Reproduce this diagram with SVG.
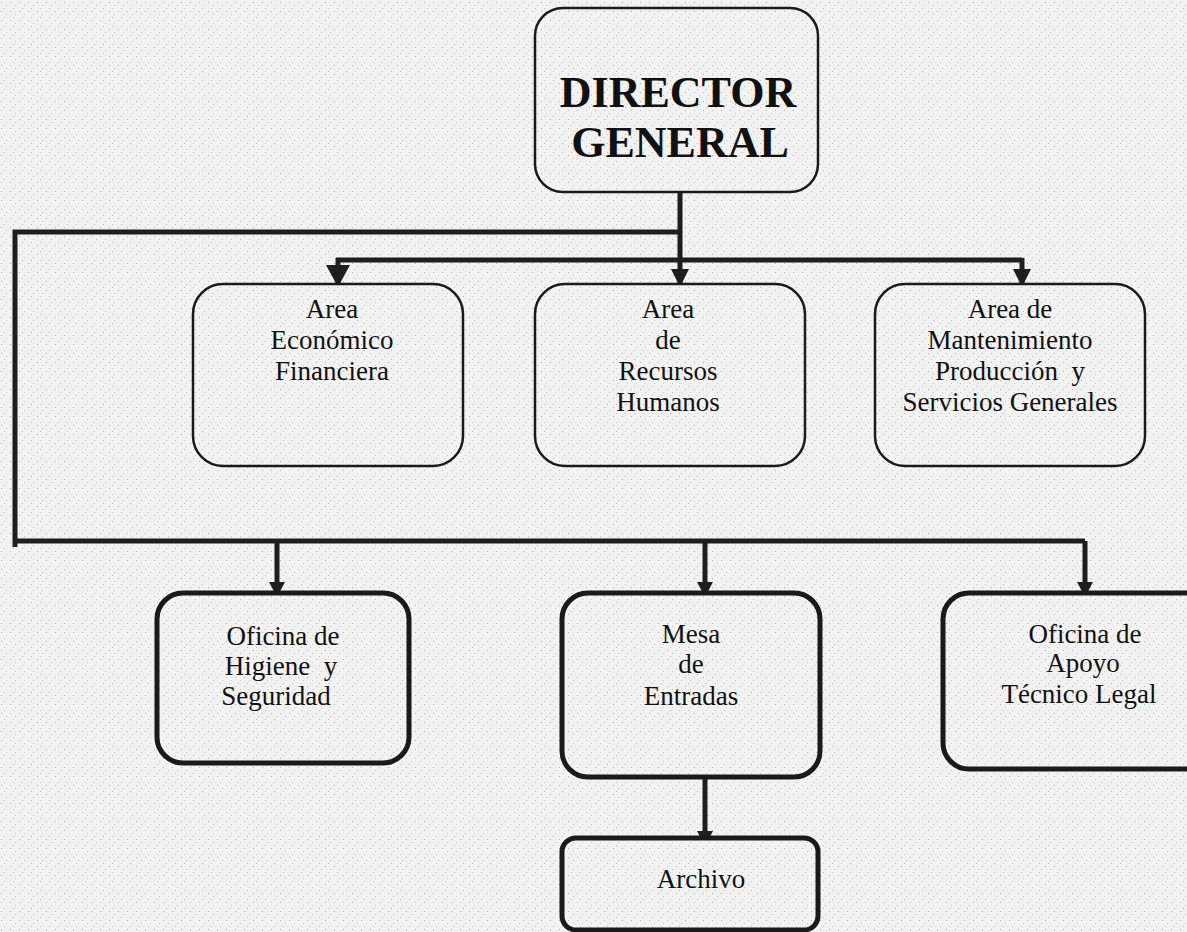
<svg xmlns="http://www.w3.org/2000/svg" width="1187" height="932" viewBox="0 0 1187 932">
  <defs>
    <pattern id="speckle" width="9" height="9" patternUnits="userSpaceOnUse">
      <rect width="9" height="9" fill="#f2f2f2"/>
      <rect x="1" y="2" width="1" height="1" fill="#b0b0b0"/>
      <rect x="6" y="5" width="1" height="1" fill="#c4c4c4"/>
      <rect x="4" y="8" width="1" height="1" fill="#bcbcbc"/>
    </pattern>
    <marker id="arrow" markerUnits="userSpaceOnUse" markerWidth="20" markerHeight="20" refX="18" refY="9" orient="auto">
      <path d="M0,0 L18,9 L0,18 Z" fill="#1e1e1e"/>
    </marker>
    <marker id="arrowBig" markerUnits="userSpaceOnUse" markerWidth="24" markerHeight="26" refX="22" refY="12" orient="auto">
      <path d="M0,0 L22,12 L0,24 Z" fill="#1e1e1e"/>
    </marker>
    <marker id="arrowSm" markerUnits="userSpaceOnUse" markerWidth="18" markerHeight="18" refX="15" refY="8" orient="auto">
      <path d="M0,0 L15,8 L0,16 Z" fill="#1e1e1e"/>
    </marker>
  </defs>
  <style>
    .box { fill: url(#speckle); stroke: #1a1a1a; }
    .thin { stroke-width: 2.5; }
    .thick { stroke-width: 5; }
    .conn { fill: none; stroke: #1e1e1e; stroke-width: 5; }
    .lbl { font-family: "Liberation Serif", "Times New Roman", serif; font-size: 27px; fill: #111; text-anchor: middle; }
    .title { font-family: "Liberation Serif", "Times New Roman", serif; font-size: 44px; font-weight: bold; fill: #111; text-anchor: middle; }
  </style>
  <rect width="1187" height="932" fill="url(#speckle)"/>

  <g id="connectors">
    <path class="conn" d="M680,192 L680,287" marker-end="url(#arrow)"/>
    <path class="conn" d="M680,232 L15,232 L15,547"/>
    <path class="conn" d="M336,260 L1022,260"/>
    <path class="conn" d="M338,258 L338,287" marker-end="url(#arrowBig)"/>
    <path class="conn" d="M1022,258 L1022,287" marker-end="url(#arrow)"/>
    <path class="conn" d="M13,541 L1085,541"/>
    <path class="conn" d="M277,541 L277,597" marker-end="url(#arrowSm)"/>
    <path class="conn" d="M705,541 L705,597" marker-end="url(#arrowSm)"/>
    <path class="conn" d="M1085,541 L1085,597" marker-end="url(#arrowSm)"/>
    <path class="conn" d="M705,755 L705,846" marker-end="url(#arrowSm)"/>
  </g>

  <g id="director">
    <rect class="box thin" x="535" y="8" width="283" height="184" rx="28"/>
    <text class="title" x="678" y="107">DIRECTOR</text>
    <text class="title" x="680" y="157">GENERAL</text>
  </g>

  <g id="area-economico">
    <rect class="box thin" x="193" y="284" width="270" height="182" rx="30"/>
    <text class="lbl" x="332" y="318">Area</text>
    <text class="lbl" x="332" y="349">Económico</text>
    <text class="lbl" x="332" y="380">Financiera</text>
  </g>

  <g id="area-rrhh">
    <rect class="box thin" x="535" y="284" width="270" height="182" rx="30"/>
    <text class="lbl" x="668" y="318">Area</text>
    <text class="lbl" x="668" y="349">de</text>
    <text class="lbl" x="668" y="380">Recursos</text>
    <text class="lbl" x="668" y="411">Humanos</text>
  </g>

  <g id="area-mantenimiento">
    <rect class="box thin" x="875" y="284" width="270" height="182" rx="30"/>
    <text class="lbl" x="1010" y="318">Area de</text>
    <text class="lbl" x="1010" y="349">Mantenimiento</text>
    <text class="lbl" x="1010" y="380" xml:space="preserve">Producción  y</text>
    <text class="lbl" x="1010" y="411">Servicios Generales</text>
  </g>

  <g id="oficina-higiene">
    <rect class="box thick" x="157" y="593" width="252" height="170" rx="26"/>
    <text class="lbl" x="283" y="645">Oficina de</text>
    <text class="lbl" x="281" y="675" xml:space="preserve">Higiene  y</text>
    <text class="lbl" x="276" y="705">Seguridad</text>
  </g>

  <g id="mesa-entradas">
    <rect class="box thick" x="562" y="593" width="258" height="184" rx="26"/>
    <text class="lbl" x="691" y="643">Mesa</text>
    <text class="lbl" x="691" y="673">de</text>
    <text class="lbl" x="691" y="705">Entradas</text>
  </g>

  <g id="oficina-apoyo">
    <rect class="box thick" x="943" y="593" width="270" height="176" rx="26"/>
    <text class="lbl" x="1085" y="643">Oficina de</text>
    <text class="lbl" x="1083" y="672">Apoyo</text>
    <text class="lbl" x="1079" y="703">Técnico Legal</text>
  </g>

  <g id="archivo">
    <rect class="box thick" x="562" y="838" width="256" height="92" rx="14"/>
    <text class="lbl" x="701" y="888">Archivo</text>
  </g>
</svg>
